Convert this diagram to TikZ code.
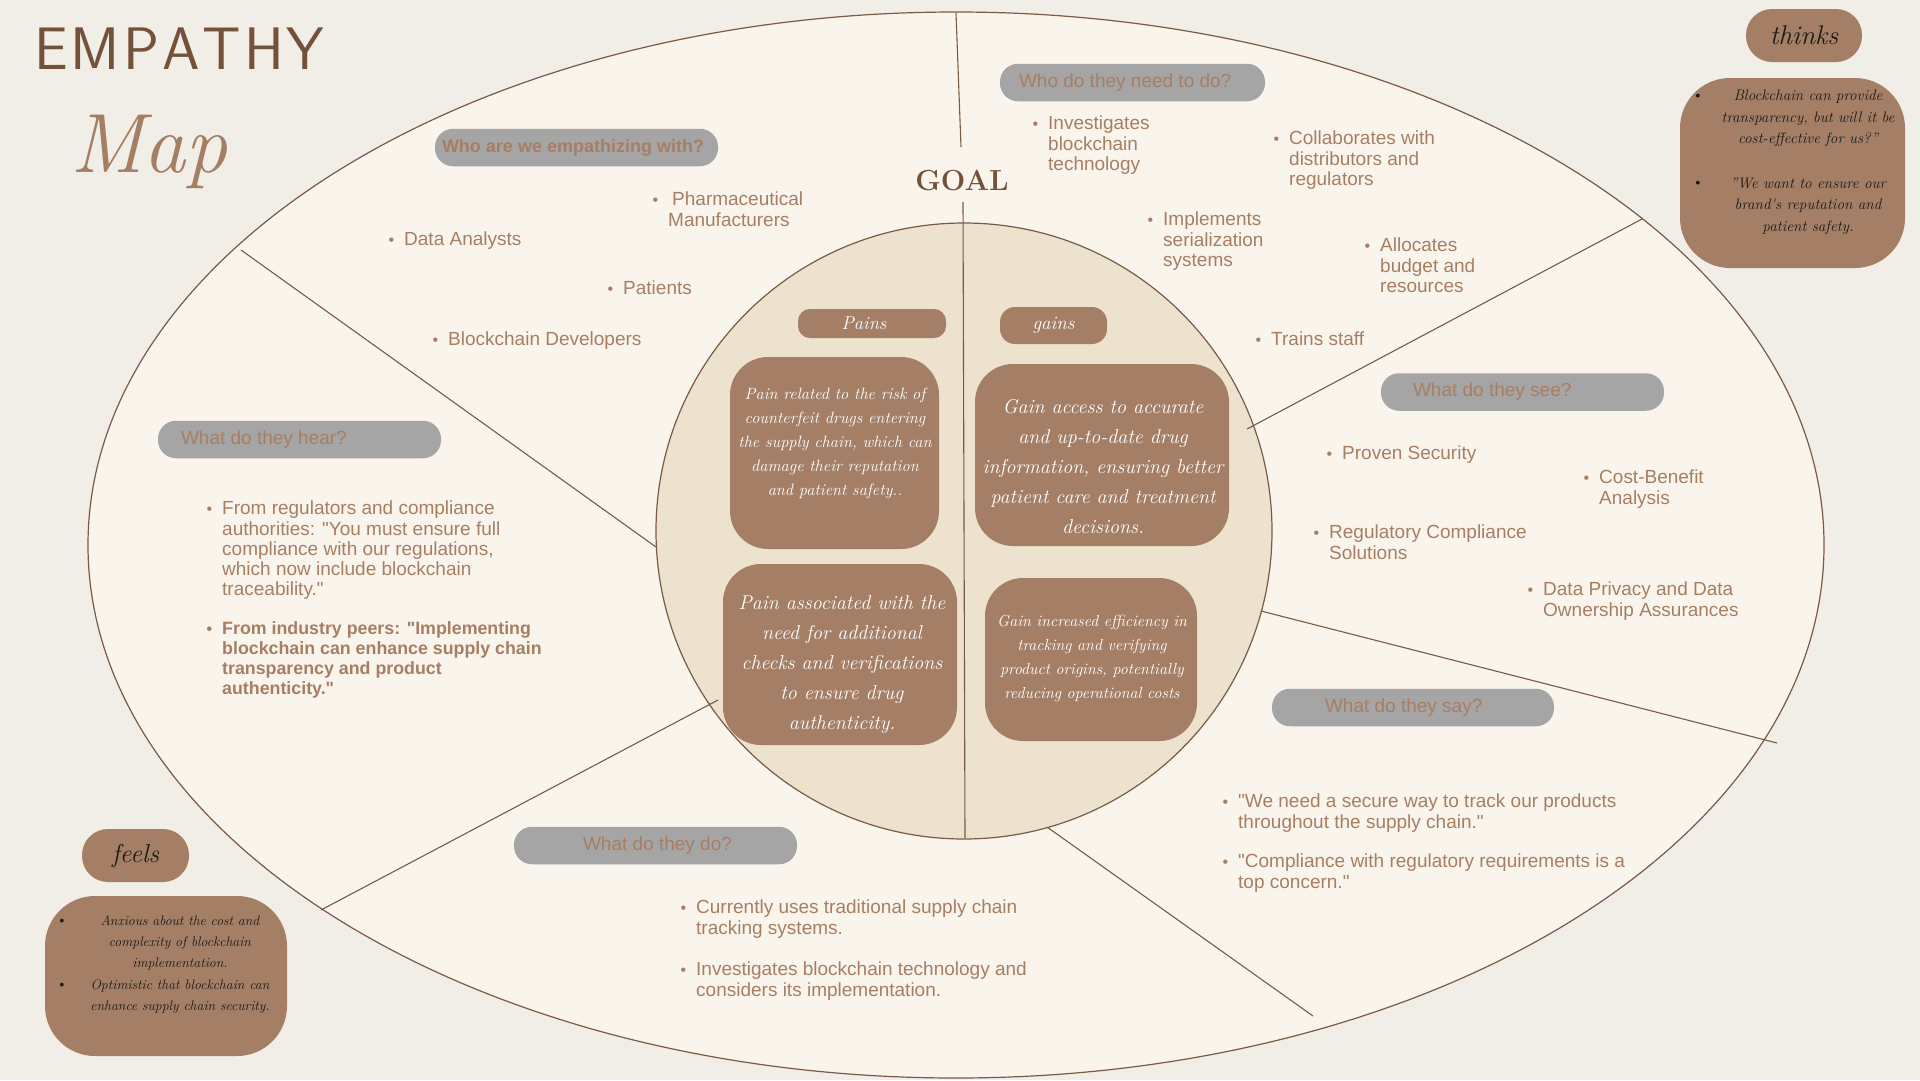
\documentclass[tikz,border=0pt]{standalone}
\usepackage{fontspec}
\usepackage{xcolor}
\usepackage{tikz}
\newfontfamily\bodyfont{Liberation Sans}
\definecolor{bgcol}{HTML}{F1EDE7}
\definecolor{ellcol}{HTML}{F9F5ED}
\definecolor{circcol}{HTML}{ECE2CD}
\definecolor{linecol}{HTML}{7A5A44}
\definecolor{boxcol}{HTML}{A47F66}
\definecolor{pillcol}{HTML}{A5A5A5}
\definecolor{txtcol}{HTML}{A87E63}
\definecolor{darkcol}{HTML}{74513A}
\definecolor{mapcol}{HTML}{A57F63}
\newcommand{\bul}{\llap{{\fontsize{16}{16}\selectfont\textbullet}\hspace{10pt}}}

\begin{document}
\begin{tikzpicture}[x=1pt, y=-1pt,
  sep/.style={draw=linecol, line width=1.1pt},
  pill/.style={fill=pillcol, rounded corners=18pt, minimum height=37.5pt, inner sep=0pt},
  pilltxt/.style={anchor=west, text=txtcol, inner sep=0pt, font=\bodyfont\fontsize{19}{22}\selectfont},
  item/.style={anchor=north west, align=left, text=txtcol, inner sep=0pt, font=\bodyfont\fontsize{19}{20.2}\selectfont},
  brownbox/.style={fill=boxcol, rounded corners=38pt, inner sep=0pt},
  boxtxt/.style={text=white, align=center, inner sep=0pt},
  blacktxt/.style={text=black!90, align=center, inner sep=0pt},
  dot/.style={text=black!90, inner sep=0pt, font=\fontsize{14}{14}\selectfont}]
  \useasboundingbox (0,0) rectangle (1920,1080);
  \fill[bgcol] (0,0) rectangle (1920,1080);

  % map outline
  \draw[linecol, line width=1.2pt, fill=ellcol] (956,545) ellipse [x radius=868, y radius=533];
  \draw[linecol, line width=1.2pt, fill=circcol] (964,531) circle [radius=308];
  \draw[sep] (956,13) -- (961,147);
  \draw[sep] (963,202) -- (965,838);
  \draw[sep] (241,250) -- (656,547);
  \draw[sep] (1642,219) -- (1247,429);
  \draw[sep] (1261,611) -- (1777,743);
  \draw[sep] (1047,827) -- (1313,1016);
  \draw[sep] (321,910) -- (718,700);

  % titles
  \node[anchor=base west, inner sep=0pt, text=darkcol, font=\sffamily\fontsize{60}{60}\selectfont] (title) at (34,69) {E\kern3pt M\kern3pt P\kern3pt A\kern3pt T\kern3pt H\kern3pt Y};
  \node[anchor=base west, inner sep=0pt, text=mapcol, font=\itshape\fontsize{84}{84}\selectfont] (map) at (70,172) {Map};
  \node[inner sep=0pt, text=darkcol, font=\bfseries\fontsize{29}{29}\selectfont] (goal) at (962,181) {GOAL};

  % section pills
  \node[pill, minimum width=283pt] (whoP) at (576.5,147.5) {};
  \node[pilltxt, font=\bodyfont\bfseries\fontsize{18}{20}\selectfont] (whoL) at ([xshift=7pt]whoP.west) {Who are we empathizing with?};
  \node[pill, minimum width=265pt] (needP) at (1132.5,82.5) {};
  \node[pilltxt] (needL) at ([xshift=19pt]needP.west) {Who do they need to do?};
  \node[pill, minimum width=283pt] (seeP) at (1522.5,392) {};
  \node[pilltxt] (seeL) at ([xshift=32pt]seeP.west) {What do they see?};
  \node[pill, minimum width=282pt] (sayP) at (1413,707.5) {};
  \node[pilltxt] (sayL) at ([xshift=53pt]sayP.west) {What do they say?};
  \node[pill, minimum width=283pt] (doP) at (655.5,845.5) {};
  \node[pilltxt] (doL) at ([xshift=69pt]doP.west) {What do they do?};
  \node[pill, minimum width=283pt] (hearP) at (299.5,439.5) {};
  \node[pilltxt] (hearL) at ([xshift=23pt]hearP.west) {What do they hear?};

  % who
  \node[item] (who1) at (668,192) {\bul\hspace{4pt}Pharmaceutical\\Manufacturers};
  \node[item] (who2) at (404,232) {\bul Data Analysts};
  \node[item] (who3) at (623,281) {\bul Patients};
  \node[item] (who4) at (448,332) {\bul Blockchain Developers};

  % need to do
  \node[item] (need1) at (1048,116) {\bul Investigates\\blockchain\\technology};
  \node[item] (need2) at (1289,131) {\bul Collaborates with\\distributors and\\regulators};
  \node[item] (need3) at (1163,212) {\bul Implements\\serialization\\systems};
  \node[item] (need4) at (1380,238) {\bul Allocates\\budget and\\resources};
  \node[item] (need5) at (1271,332) {\bul Trains staff};

  % see
  \node[item] (see1) at (1342,446) {\bul Proven Security};
  \node[item] (see2) at (1599,470) {\bul Cost-Benefit\\Analysis};
  \node[item] (see3) at (1329,525) {\bul Regulatory Compliance\\Solutions};
  \node[item] (see4) at (1543,582) {\bul Data Privacy and Data\\Ownership Assurances};

  % say
  \node[item] (say1) at (1238,794) {\bul "We need a secure way to track our products\\throughout the supply chain."};
  \node[item] (say2) at (1238,854) {\bul "Compliance with regulatory requirements is a\\top concern."};

  % do
  \node[item] (do1) at (696,900) {\bul Currently uses traditional supply chain\\tracking systems.};
  \node[item] (do2) at (696,962) {\bul Investigates blockchain technology and\\considers its implementation.};

  % hear
  \node[item] (hear1) at (222,501) {\bul From regulators and compliance\\authorities: "You must ensure full\\compliance with our regulations,\\which now include blockchain\\traceability."};
  \node[item, font=\bodyfont\bfseries\fontsize{17.8}{20.2}\selectfont] (hear2) at (222,621) {\bul From industry peers: "Implementing\\blockchain can enhance supply chain\\transparency and product\\authenticity."};

  % pains and gains
  \node[brownbox, rounded corners=12pt, minimum width=148pt, minimum height=29pt] (painsP) at (872,323.5) {};
  \node[inner sep=0pt, text=white, font=\itshape\fontsize{18.5}{20}\selectfont] (painsL) at (864,323.5) {Pains};
  \node[brownbox, rounded corners=15pt, minimum width=107pt, minimum height=37pt, text=white, font=\itshape\fontsize{19}{20}\selectfont] (gainsP) at (1053.5,325.5) {gains};
  \node[brownbox, minimum width=209pt, minimum height=192pt] (pain1) at (834.5,453) {};
  \node[boxtxt, font=\itshape\fontsize{16.4}{24}\selectfont] (pain1t) at (835,443.5) {Pain related to the risk of\\counterfeit drugs entering\\the supply chain, which can\\damage their reputation\\and patient safety..};
  \node[brownbox, minimum width=254pt, minimum height=182pt] (gain1) at (1102,455) {};
  \node[boxtxt, font=\itshape\fontsize{20}{30}\selectfont] (gain1t) at (1103,466.5) {Gain access to accurate\\and up-to-date drug\\information, ensuring better\\patient care and treatment\\decisions.};
  \node[brownbox, minimum width=234pt, minimum height=181pt] (pain2) at (840,654.5) {};
  \node[boxtxt, font=\itshape\fontsize{20}{30}\selectfont] (pain2t) at (842,665) {Pain associated with the\\need for additional\\checks and verifications\\to ensure drug\\authenticity.};
  \node[brownbox, minimum width=212pt, minimum height=163pt] (gain2) at (1091,659.5) {};
  \node[boxtxt, font=\itshape\fontsize{16}{24}\selectfont] (gain2t) at (1092,658) {Gain increased efficiency in\\tracking and verifying\\product origins, potentially\\reducing operational costs};

  % thinks
  \node[brownbox, rounded corners=26pt, minimum width=116pt, minimum height=53pt, text=black!90, font=\itshape\fontsize{27}{28}\selectfont] (thinksP) at (1804,35.5) {thinks};
  \node[brownbox, rounded corners=50pt, minimum width=225pt, minimum height=190pt] (thinksB) at (1792.5,173) {};
  \node[blacktxt, font=\itshape\fontsize{15.2}{21.5}\selectfont] (think1) at (1808,118.5) {Blockchain can provide\\transparency, but will it be\\cost-effective for us?"};
  \node[blacktxt, font=\itshape\fontsize{15.2}{21.5}\selectfont] (think2) at (1808,206) {"We want to ensure our\\brand\textquotesingle s reputation and\\patient safety.};
  \node[dot] (tb1) at (1698,97) {\textbullet};
  \node[dot] (tb2) at (1698,184) {\textbullet};

  % feels
  \node[brownbox, rounded corners=26pt, minimum width=107pt, minimum height=53pt, text=black!90, font=\itshape\fontsize{26}{28}\selectfont] (feelsP) at (135.5,855.5) {feels};
  \node[brownbox, rounded corners=50pt, minimum width=242pt, minimum height=160pt] (feelsB) at (166,976) {};
  \node[blacktxt, font=\itshape\fontsize{13.8}{20.8}\selectfont] (feel1) at (180,943) {Anxious about the cost and\\complexity of blockchain\\implementation.};
  \node[blacktxt, font=\itshape\fontsize{13.8}{20.8}\selectfont] (feel2) at (180,996.5) {Optimistic that blockchain can\\enhance supply chain security.};
  \node[dot] (fb1) at (62,922) {\textbullet};
  \node[dot] (fb2) at (62,986) {\textbullet};
\end{tikzpicture}
\end{document}
